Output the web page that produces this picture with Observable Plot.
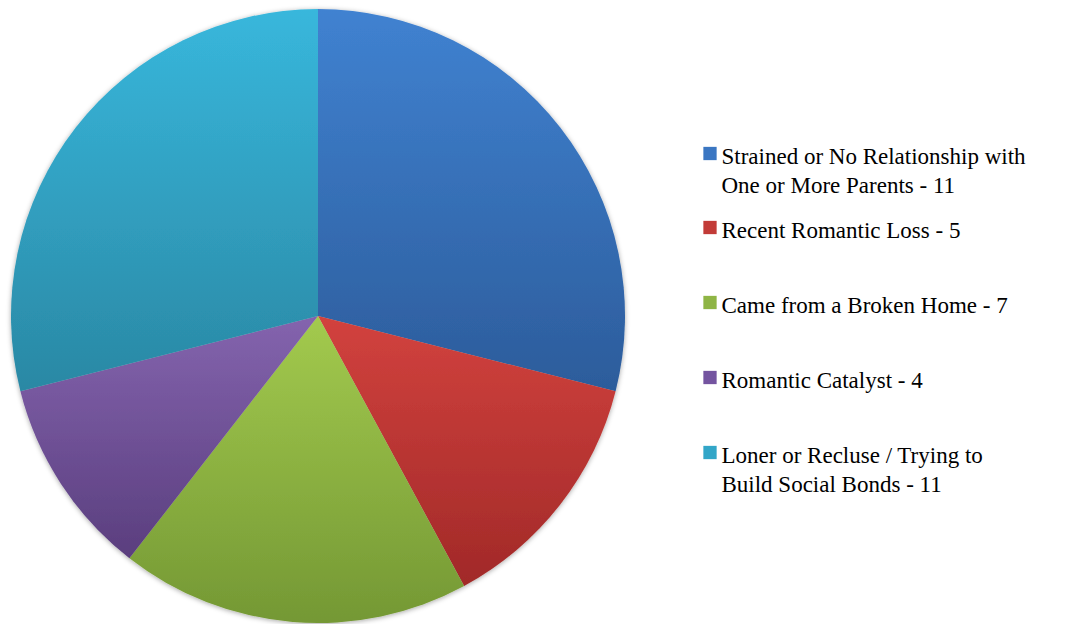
<!DOCTYPE html>
<html><head><meta charset="utf-8">
<script src="https://cdn.jsdelivr.net/npm/d3@7"></script>
<script src="https://cdn.jsdelivr.net/npm/@observablehq/plot@0.6"></script>
<style>body{margin:0;background:#fff;} #chart svg text{font-family:"Liberation Serif","DejaVu Serif","Noto Serif",serif !important;}</style>
</head><body><div id="chart"></div>
<script>
const categories = ["Strained or No Relationship with\nOne or More Parents - 11","Recent Romantic Loss - 5","Came from a Broken Home - 7","Romantic Catalyst - 4","Loner or Recluse / Trying to\nBuild Social Bonds - 11"];
const values = [11, 5, 7, 4, 11];
const topColors = ["#4082d1","#d2423e","#a3ca4e","#8464ae","#38b7dc"];
const bottomColors = ["#2c5c9b","#a12928","#749834","#5a3e7e","#2a88a4"];
const swatchColors = ["#3a76c2","#c23b38","#8fb545","#7454a0","#32a6c8"];
const legendY = [153, 227, 302, 377, 452];

const data = categories.map((c, i) => ({category: c, value: values[i], i, ly: legendY[i]}));
const W = 1080, H = 624;
const cx = 318, cy = 316, R = 307;

function pieMark(index, scales, vals, dims, context) {
  const svg = d3.create("svg:g");
  const defs = svg.append("defs");
  data.forEach(d => {
    const g = defs.append("linearGradient").attr("id", "grad" + d.i)
      .attr("x1", 0).attr("y1", 0).attr("x2", 0).attr("y2", 1);
    g.append("stop").attr("offset", "0%").attr("stop-color", topColors[d.i]);
    g.append("stop").attr("offset", "100%").attr("stop-color", bottomColors[d.i]);
  });
  const f = defs.append("filter").attr("id", "shadow").attr("x", "-10%").attr("y", "-10%").attr("width", "120%").attr("height", "120%");
  f.append("feDropShadow").attr("dx", 0).attr("dy", 1).attr("stdDeviation", 2.5).attr("flood-color", "#000").attr("flood-opacity", 0.35);
  const pie = d3.pie().sort(null).value(d => d.value);
  const arc = d3.arc().innerRadius(0).outerRadius(scales.x(cx + R) - scales.x(cx));
  const gg = svg.append("g").attr("transform", `translate(${scales.x(cx)},${scales.y(cy)})`).attr("filter", "url(#shadow)");
  gg.selectAll("path").data(pie(data)).join("path")
    .attr("d", arc)
    .attr("fill", d => `url(#grad${d.data.i})`)
    .attr("stroke", "none");
  return svg.node();
}

const legendLines = [];
data.forEach(d => d.category.split("\n").forEach((t, k) => legendLines.push({text: t, y: d.ly + 10 + k * 29})));

const chart = Plot.plot({
  width: W, height: H,
  margin: 0,
  x: {domain: [0, W], range: [0, W], axis: null},
  y: {domain: [0, H], range: [0, H], axis: null},
  marks: [
    pieMark,
    Plot.dot(data, {x: 709.5, y: "ly", symbol: "square", r: 7.5, fill: d => swatchColors[d.i], stroke: "none"}),
    Plot.text(legendLines, {x: 721, y: "y", text: "text", textAnchor: "start", lineAnchor: "bottom", fontSize: 23, fill: "#000"})
  ]
});
document.getElementById("chart").append(chart);
</script></body></html>
